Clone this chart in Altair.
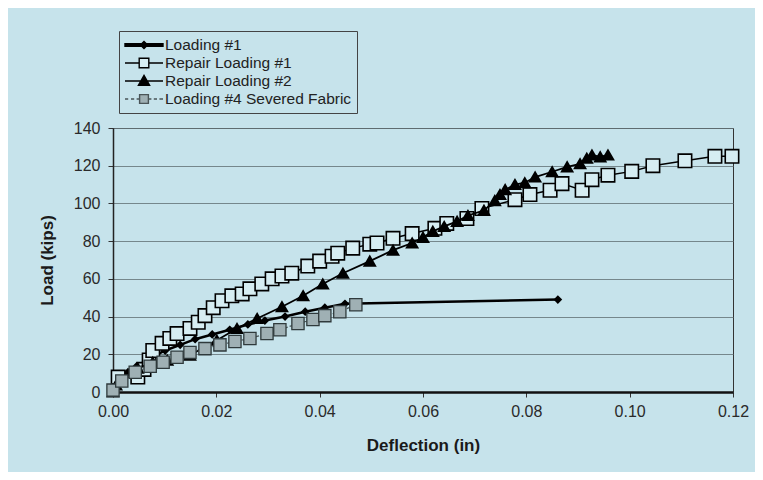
import altair as alt
import pandas as pd

SERIES = ["Loading #1", "Repair Loading #1", "Repair Loading #2", "Loading #4 Severed Fabric"]

X_TICKS = [0.0, 0.02, 0.04, 0.06, 0.08, 0.10, 0.12]
Y_TICKS = [0, 20, 40, 60, 80, 100, 120, 140]

load1_x = [0.0, 0.0014, 0.0029, 0.0046, 0.0072, 0.0101, 0.013, 0.0159, 0.0192, 0.0226,
           0.0261, 0.0294, 0.0333, 0.0372, 0.041, 0.0449, 0.0861]
load1_y = [0, 6.3, 10.5, 13.7, 17.9, 22, 25, 28, 30.5, 33,
           35.8, 37.9, 40, 42.6, 44.7, 46.8, 49.0]

rep1_x = [0.001, 0.0048, 0.006, 0.007, 0.0077, 0.0095, 0.011, 0.0124, 0.0149, 0.0165,
          0.0178, 0.0194, 0.0211, 0.023, 0.025, 0.0265, 0.0288, 0.0308, 0.0327, 0.0346,
          0.0377, 0.040, 0.0424, 0.0435, 0.0464, 0.0497, 0.0511, 0.0542, 0.0579, 0.0623,
          0.0646, 0.0685, 0.0714, 0.0778, 0.0807, 0.0846, 0.0869, 0.0908, 0.0927, 0.0958,
          0.1004, 0.1045, 0.1107, 0.1165, 0.1198]
rep1_y = [7.9, 7.9, 12, 17, 22, 25.8, 28.4, 31, 33.7, 37,
          40.5, 44.7, 48.4, 51, 52, 54.7, 57.3, 60, 61.5, 63,
          66.8, 69.4, 72, 73.6, 76.3, 78.4, 79, 81.5, 84, 86.8,
          89.4, 92, 97.3, 102, 104.7, 107, 110.5, 107, 112.6, 115,
          117, 120, 122.6, 125, 125]

rep2_x = [0.0, 0.0006, 0.0048, 0.0077, 0.0105, 0.0149, 0.0201, 0.024, 0.0279, 0.0327,
          0.0368, 0.0406, 0.0445, 0.0497, 0.0542, 0.0579, 0.06, 0.0619, 0.0641, 0.0666,
          0.0687, 0.0718, 0.0739, 0.0749, 0.0759, 0.0778, 0.0797, 0.0817, 0.085, 0.0879,
          0.0904, 0.0917, 0.0927, 0.0943, 0.0958]
rep2_y = [0, 3.7, 12.6, 15.8, 16.8, 19.5, 27.4, 33.7, 39, 45.2,
          51, 57.3, 63, 69.4, 75.2, 79, 82, 85.2, 87.8, 90.5,
          93.6, 96.3, 101.5, 104.7, 107.3, 110, 111, 114, 116.8, 119.4,
          121, 124, 125.7, 124.7, 125.7]

load4_x = [0.0, 0.0017, 0.0043, 0.0072, 0.0097, 0.0124, 0.0149, 0.0178, 0.0207, 0.0236,
           0.0265, 0.0298, 0.0323, 0.0358, 0.0387, 0.041, 0.0439, 0.047]
load4_y = [1, 5.8, 10.5, 13.7, 15.8, 18.4, 21, 23, 25, 26.8,
           28.4, 31, 33, 36.3, 38.4, 40.5, 42.6, 46.3]

BG = "#c6e3eb"
SQ_FILL = "#d6edf2"
GRAY_FILL = "#9fb0b4"
FONT = "Liberation Sans"

frames = []
for name, xs, ys in [(SERIES[0], load1_x, load1_y), (SERIES[1], rep1_x, rep1_y),
                     (SERIES[2], rep2_x, rep2_y), (SERIES[3], load4_x, load4_y)]:
    frames.append(pd.DataFrame({"d": xs, "load": ys, "series": name, "i": list(range(len(xs)))}))
df = pd.concat(frames, ignore_index=True)

x_enc = alt.X("d:Q", scale=alt.Scale(domain=[0, 0.12], nice=False, zero=False),
              axis=alt.Axis(values=X_TICKS, format=".2f", title="Deflection (in)", grid=False,
                            domainWidth=2.5, domainColor="#111", tickSize=5, labelPadding=6,
                            labelFlush=False, titlePadding=18))
y_enc = alt.Y("load:Q", scale=alt.Scale(domain=[0, 140], nice=False),
              axis=alt.Axis(values=Y_TICKS, title="Load (kips)", grid=True,
                            domainWidth=1.5, domainColor="#222", tickSize=5, labelPadding=8,
                            labelFlush=False, titlePadding=17))

line_styles = {
    SERIES[0]: dict(stroke="black", strokeWidth=2.5),
    SERIES[1]: dict(stroke="black", strokeWidth=1.5),
    SERIES[2]: dict(stroke="black", strokeWidth=1.8),
    SERIES[3]: dict(stroke="#4a5558", strokeWidth=1.2, strokeDash=[3, 2]),
}
point_styles = {
    SERIES[0]: dict(shape="diamond", filled=True, fill="black", stroke="black", size=35),
    SERIES[1]: dict(shape="square", filled=True, fill=SQ_FILL, stroke="black", strokeWidth=1.6, size=180),
    SERIES[2]: dict(shape="triangle-up", filled=True, fill="black", stroke="black", size=110),
    SERIES[3]: dict(shape="square", filled=True, fill=GRAY_FILL, stroke="#2f3a3c", strokeWidth=1.3, size=150),
}

layers = []
for name in SERIES:
    base = alt.Chart(df).transform_filter(alt.datum.series == name)
    layers.append(base.mark_line(**line_styles[name]).encode(x=x_enc, y=y_enc, order="i:Q"))
    layers.append(base.mark_point(opacity=1, **point_styles[name]).encode(x=x_enc, y=y_enc))

LEG_PATHS = [
    "M-1,-0.15H3.75V0.15H-1Z M1.375,-0.45L1.825,0L1.375,0.45L0.925,0Z",
    "M-1,0H0.775M1.975,0H3.75M0.775,-0.6H1.975V0.6H0.775Z",
    "M-1,0H3.75M1.375,-0.7L2.075,0.55H0.675Z",
    "M-1,0H-0.6M-0.25,0H0.15M0.45,0H0.8M1.95,0H2.3M2.6,0H3.0M3.3,0H3.75"
    "M0.825,-0.55H1.925V0.55H0.825Z",
]
LEG_FILL = ["black", SQ_FILL, "black", GRAY_FILL]
LEG_STROKE = ["black", "black", "black", "#4a5558"]

legend_layer = alt.Chart(df).transform_filter("false").mark_point(filled=True, opacity=1).encode(
    x=x_enc, y=y_enc,
    shape=alt.Shape("series:N", scale=alt.Scale(domain=SERIES, range=LEG_PATHS),
                    legend=alt.Legend(orient="none", legendX=6, legendY=-97, title=None,
                                      padding=5, fillColor=BG, strokeColor="#444",
                                      labelFont=FONT, labelFontSize=15.5, labelColor="#222",
                                      symbolSize=256, symbolStrokeWidth=1.4, labelOffset=23,
                                      rowPadding=0, labelLimit=320, symbolOpacity=1,
                                      labelExpr="datum.label + '   '")),
    fill=alt.Fill("series:N", scale=alt.Scale(domain=SERIES, range=LEG_FILL)),
    stroke=alt.Stroke("series:N", scale=alt.Scale(domain=SERIES, range=LEG_STROKE)),
)

chart = alt.layer(*layers, legend_layer).properties(
    width=620, height=264,
    autosize=alt.AutoSizeParams(type="none"),
    padding={"left": 105, "top": 120, "right": 22, "bottom": 80},
    background=BG,
).configure_view(
    stroke="#333", strokeWidth=1, fill=BG
).configure_axis(
    labelFont=FONT, labelFontSize=16, labelColor="#2a2a2a",
    titleFont=FONT, titleFontSize=17, titleFontWeight="bold", titleColor="#1a1a1a",
    tickColor="#333", gridColor="#66777b", gridWidth=1, gridOpacity=0.85,
)

chart.save("out.html", embed_options={"renderer": "svg", "actions": False})
